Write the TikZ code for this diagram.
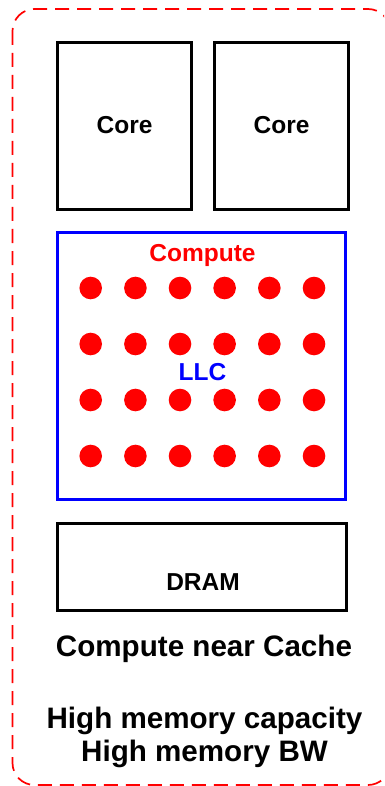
\documentclass[tikz,border=0pt]{standalone}
\usepackage{fontspec}
\setmainfont{Liberation Sans}
\usetikzlibrary{positioning}
\tikzset{
  unitbox/.style={draw=black, line width=3.5pt, minimum width=134pt, minimum height=167pt, inner sep=0pt},
  llcbox/.style={draw=blue, line width=3.5pt, minimum width=288pt, minimum height=267pt, inner sep=0pt},
  drambox/.style={draw=black, line width=3.5pt, minimum width=289pt, minimum height=87pt, inner sep=0pt},
  boxlabel/.style={anchor=base, inner sep=0pt, font=\fontsize{24.5}{28}\selectfont\bfseries},
  footlabel/.style={anchor=base, inner sep=0pt, font=\fontsize{29.6}{34}\selectfont\bfseries},
  pedot/.style={circle, fill=red, minimum size=22.6pt, inner sep=0pt},
}
\begin{document}
\begin{tikzpicture}[x=1pt, y=-1pt]
    \useasboundingbox (0,0) rectangle (384,786);
    \clip (0,0) rectangle (384,786);
    % outer dashed frame
    \draw[red, line width=1.7pt, dash pattern=on 14pt off 8pt, rounded corners=22pt] (12.5,9) rectangle (390,785);
    % cores
    \node[unitbox] (core1) at (124.5,126) {};
    \node[unitbox] (core2) at (281.5,126) {};
    \node[boxlabel] (core1txt) at (124.5,134) {Core};
    \node[boxlabel] (core2txt) at (281.5,134) {Core};
    % last level cache with compute
    \node[llcbox] (llc) at (201.5,366) {};
    \node[boxlabel, red] (computetxt) at (202.5,261.7) {Compute};
    \foreach \row/\y in {1/288,2/344,3/400,4/456} {
      \foreach \col/\x in {1/90.7,2/135.4,3/180,4/224.6,5/269.3,6/314} {
        \node[pedot] (pe\row\col) at (\x,\y) {};
      }
    }
    \node[boxlabel, blue] (llctxt) at (202.5,380) {LLC};
    % memory
    \node[drambox] (dram) at (202,567) {};
    \node[boxlabel] (dramtxt) at (203,590) {DRAM};
    % captions
    \node[footlabel] (caption) at (204,656.7) {Compute near Cache};
    \node[footlabel] (capacity) at (204.5,728) {High memory capacity};
    \node[footlabel] (bandwidth) at (204.5,761.7) {High memory BW};
\end{tikzpicture}
\end{document}
